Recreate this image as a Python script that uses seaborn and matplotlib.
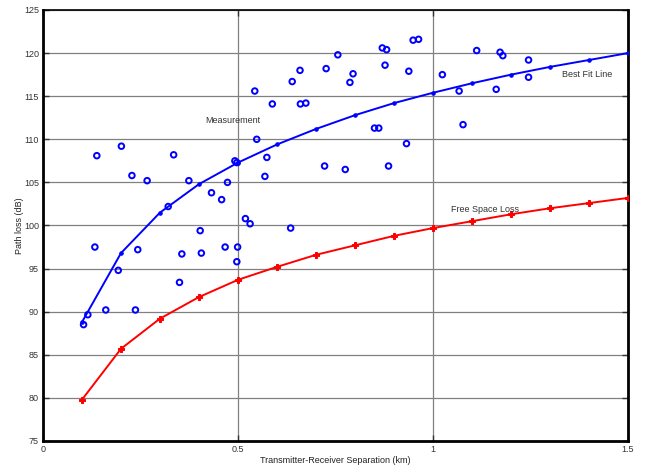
import matplotlib
matplotlib.use("Agg")
import matplotlib.pyplot as plt
import seaborn as sns
import pandas as pd

# Measurement scatter (km, dB)
meas_x = [0.104, 0.115, 0.133, 0.138, 0.161, 0.193, 0.201, 0.228, 0.237, 0.243,
          0.267, 0.321, 0.335, 0.350, 0.356, 0.374, 0.403, 0.406, 0.432, 0.458,
          0.467, 0.473, 0.492, 0.497, 0.499, 0.497, 0.519, 0.531, 0.543, 0.548,
          0.569, 0.574, 0.588, 0.635, 0.639, 0.659, 0.660, 0.674, 0.722, 0.726,
          0.756, 0.775, 0.787, 0.795, 0.850, 0.861, 0.870, 0.877, 0.881, 0.886,
          0.932, 0.938, 0.949, 0.963, 1.024, 1.067, 1.077, 1.112, 1.162, 1.172,
          1.179, 1.245, 1.245]
meas_y = [88.5, 89.65, 97.5, 108.1, 90.2, 94.8, 109.2, 105.8, 90.2, 97.2,
          105.2, 102.2, 108.2, 93.4, 96.7, 105.2, 99.4, 96.8, 103.8, 103.0,
          97.5, 105.0, 107.5, 107.3, 97.5, 95.8, 100.8, 100.2, 115.6, 110.0,
          105.7, 107.9, 114.1, 99.7, 116.7, 118.0, 114.1, 114.2, 106.9, 118.2,
          119.8, 106.5, 116.6, 117.6, 111.3, 111.3, 120.6, 118.6, 120.4, 106.9,
          109.5, 117.9, 121.5, 121.6, 117.5, 115.6, 111.7, 120.3, 115.8, 120.1,
          119.7, 119.2, 117.2]

# Model curves
dist = [0.1, 0.2, 0.3, 0.4, 0.5, 0.6, 0.7, 0.8, 0.9, 1.0, 1.1, 1.2, 1.3, 1.4, 1.5]
best_fit = [88.8, 96.8, 101.5, 104.8, 107.3, 109.4, 111.2, 112.8, 114.2, 115.4,
            116.5, 117.5, 118.4, 119.2, 120.0]
free_space = [79.8, 85.7, 89.2, 91.7, 93.7, 95.2, 96.6, 97.7, 98.8, 99.7,
              100.5, 101.3, 102.0, 102.6, 103.2]

x_ticks = [0, 0.5, 1, 1.5]
x_tick_labels = ["0", "0.5", "1", "1.5"]
y_ticks = [75, 80, 85, 90, 95, 100, 105, 110, 115, 120, 125]

sns.set_style("white")
plt.rcParams['font.family'] = ['Liberation Sans', 'DejaVu Sans']

fig = plt.figure(figsize=(6.45, 4.67), dpi=100)
ax = fig.add_axes([43/645, 26/467, 585/645, 431/467])

meas_df = pd.DataFrame({"d": meas_x, "pl": meas_y})
fit_df = pd.DataFrame({"d": dist, "pl": best_fit})
fs_df = pd.DataFrame({"d": dist, "pl": free_space})

sns.lineplot(data=fit_df, x="d", y="pl", ax=ax, color="#0000ff", lw=1.4,
             marker=".", markersize=5, markeredgecolor="#0000ff", zorder=3)
sns.lineplot(data=fs_df, x="d", y="pl", ax=ax, color="#ff0000", lw=1.4,
             marker="P", markersize=4, markeredgecolor="#ff0000", zorder=3)
sns.scatterplot(data=meas_df, x="d", y="pl", ax=ax, marker="o", s=16,
                facecolors="none", edgecolor="#0000ff", linewidth=1.4, zorder=4)

ax.set_xlim(0, 1.5)
ax.set_ylim(75, 125)
ax.set_xticks(x_ticks)
ax.set_xticklabels(x_tick_labels)
ax.set_yticks(y_ticks)

ax.grid(True, color="#808080", lw=0.9)
ax.set_axisbelow(True)
ax.tick_params(direction="in", length=4, width=1, labelsize=6.5, colors="#333333",
               top=True, right=True, left=True, bottom=True, pad=3)
for side in ["left", "bottom", "right"]:
    ax.spines[side].set_linewidth(2)
    ax.spines[side].set_color("black")
ax.spines["top"].set_linewidth(1.2)
ax.spines["top"].set_color("black")

ax.set_xlabel("Transmitter-Receiver Separation (km)", fontsize=6.5, color="#222222", labelpad=1)
ax.set_ylabel("Path loss (dB)", fontsize=6.5, color="#222222", labelpad=0)

ax.text(0.415, 111.9, "Measurement", fontsize=6.5, color="#333333")
ax.text(1.33, 117.2, "Best Fit Line", fontsize=6.5, color="#333333")
ax.text(1.045, 101.6, "Free Space Loss", fontsize=6.5, color="#333333")

fig.savefig("out.png", dpi=100)
